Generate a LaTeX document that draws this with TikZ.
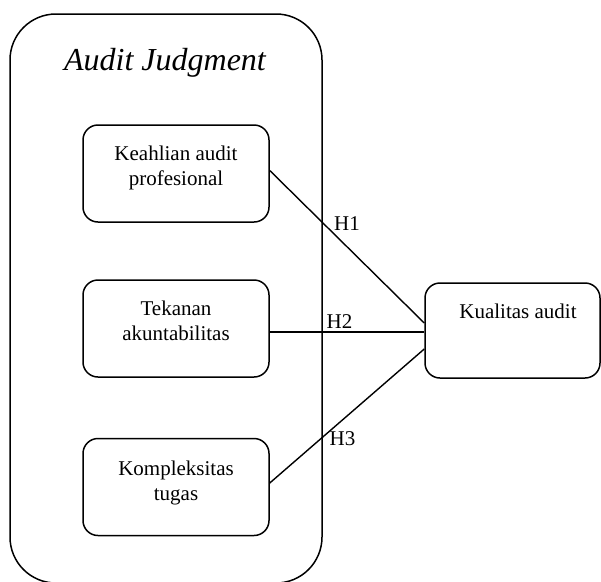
\documentclass[tikz,border=0pt]{standalone}
\usepackage{fontspec}
\setmainfont{Liberation Serif}
\usetikzlibrary{calc}

\begin{document}
\begin{tikzpicture}[
		x=1pt, y=-1pt,
		frame/.style={draw, line width=1.5pt, rounded corners=15pt, minimum width=186pt, minimum height=97pt, inner sep=0pt},
		txt/.style={align=center, font=\fontsize{21}{25}\selectfont, inner sep=0pt},
		link/.style={line width=1.4pt},
		hyp/.style={anchor=base, font=\fontsize{21}{25}\selectfont, inner sep=0pt},
	]
	\useasboundingbox (0,0) rectangle (601,581);
	% outer group
	\draw[line width=1.5pt, rounded corners=46pt] (10,14) rectangle (322,583);
	\node[anchor=base, font=\fontsize{32}{38}\selectfont\itshape, inner sep=0pt] (judgment) at (165,70) {Audit Judgment};
	% variables
	\node[frame] (keahlian) at (176,173.5) {};
	\node[frame] (tekanan) at (176,328.5) {};
	\node[frame] (kompleksitas) at (176,487) {};
	\node[frame, minimum width=175pt, minimum height=95pt] (kualitas) at (512.5,330.5) {};
	\node[txt] (keahlian-t) at ($(keahlian)+(0,-5.5)$) {Keahlian audit\\profesional};
	\node[txt] (tekanan-t) at ($(tekanan)+(0,-7.5)$) {Tekanan\\akuntabilitas};
	\node[txt] (kompleksitas-t) at ($(kompleksitas)+(0,-4.5)$) {Kompleksitas\\tugas};
	\node[hyp] (kualitas-t) at (518,318) {Kualitas audit};
	% hypotheses
	\draw[link] ($(keahlian.east)+(0,-3)$) -- ($(kualitas.west)+(0,-7.5)$);
	\draw[link] ($(tekanan.east)+(0,3.5)$) -- ($(kualitas.west)+(0,1.5)$);
	\draw[link] ($(kompleksitas.east)+(0,-4)$) -- ($(kualitas.west)+(0,18.5)$);
	\node[hyp] (h1) at (347,230) {H1};
	\node[hyp] (h2) at (339.5,328) {H2};
	\node[hyp] (h3) at (342.5,445) {H3};
\end{tikzpicture}
\end{document}
